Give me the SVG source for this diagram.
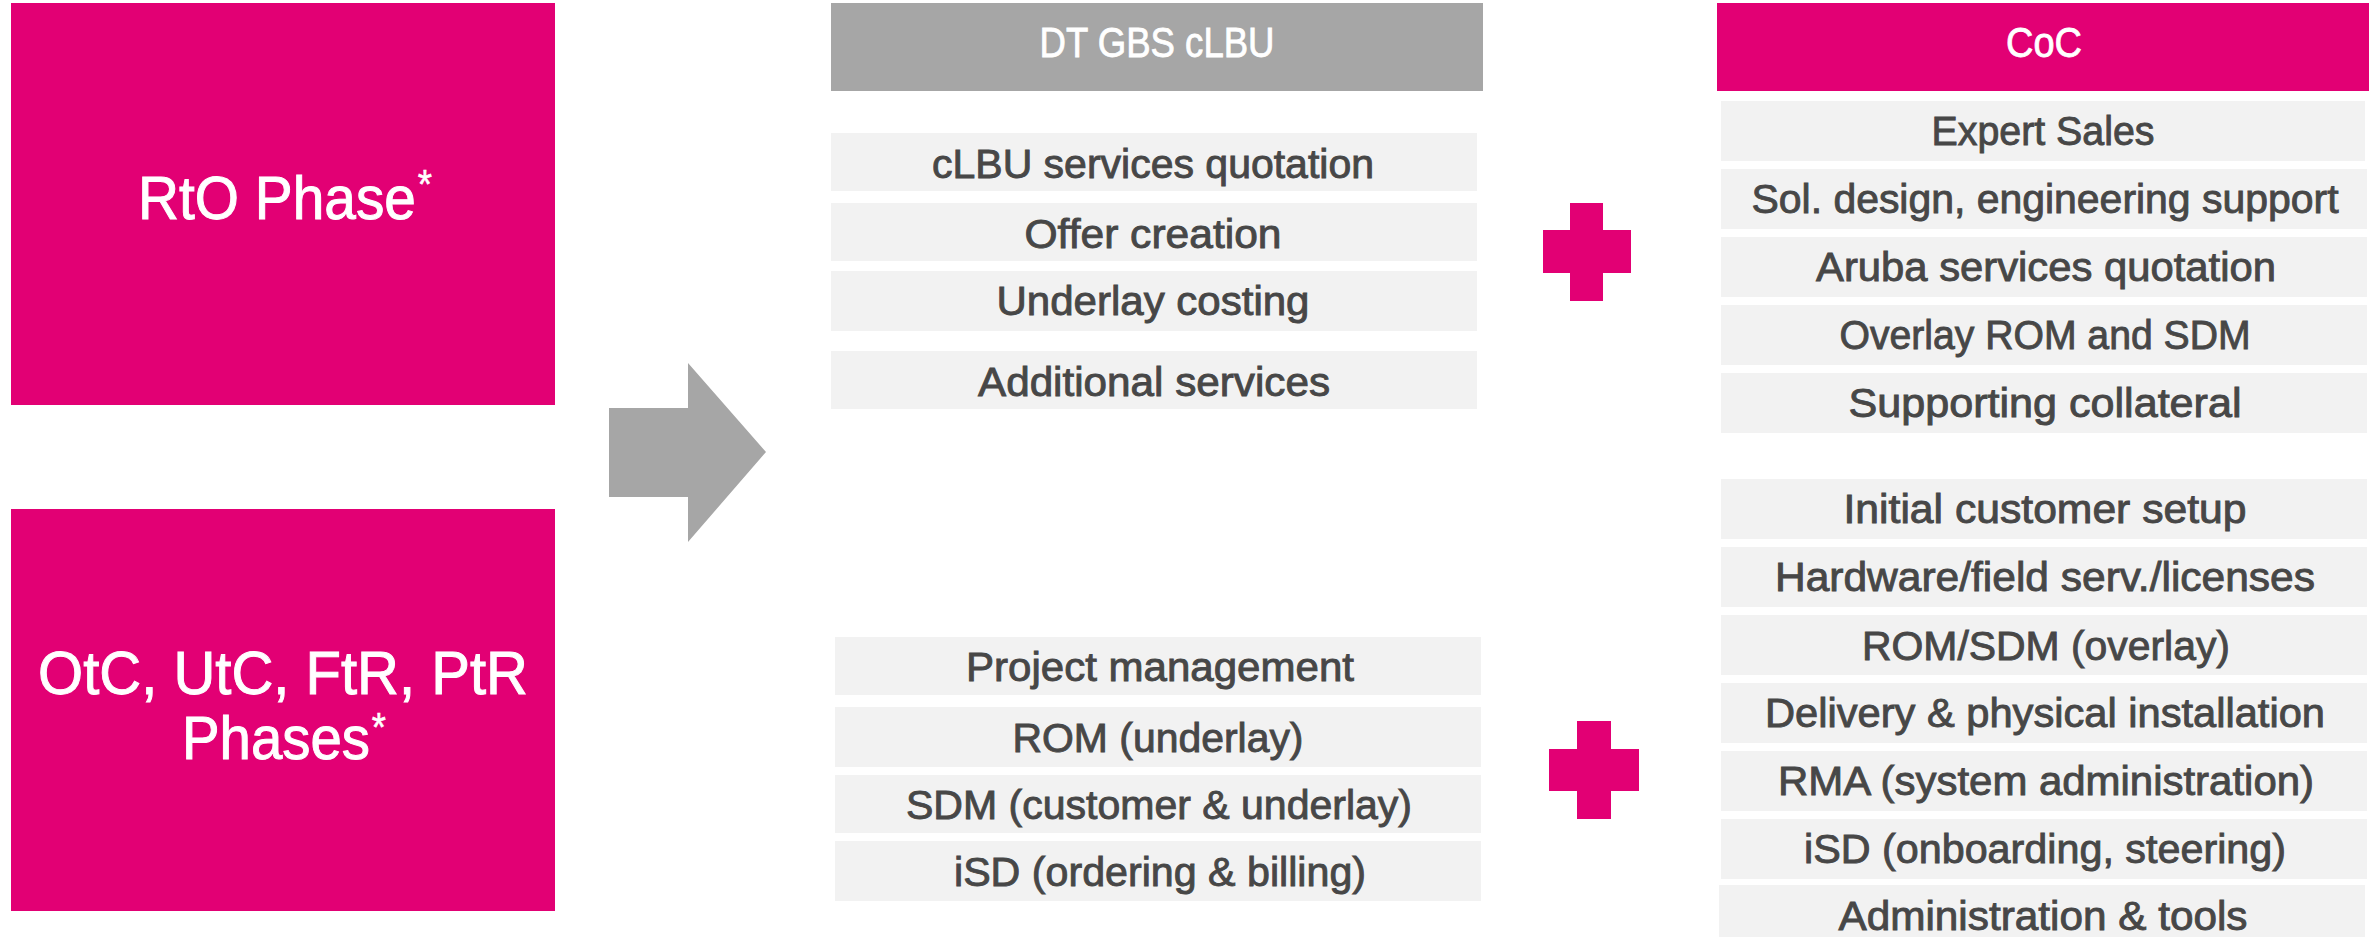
<svg xmlns="http://www.w3.org/2000/svg" width="2379" height="937" viewBox="0 0 2379 937">
<style>
.phase{fill:#E20074}
.ptxt{font-family:"Liberation Sans",Arial,sans-serif;font-size:62px;fill:#ffffff;stroke:#ffffff;stroke-width:1}
.ast{font-size:40px;stroke-width:0.6}
.hdr{font-family:"Liberation Sans",Arial,sans-serif;font-size:42px;fill:#ffffff;stroke:#ffffff;stroke-width:0.8;text-anchor:middle}
.item{fill:#F2F2F2}
.itxt{font-family:"Liberation Sans",Arial,sans-serif;font-size:40px;fill:#474747;text-anchor:middle;stroke:#474747;stroke-width:0.9}
.plus{fill:#E20074}
.arrow{fill:#A6A6A6}
</style>
<rect width="2379" height="937" fill="#ffffff"/>

<g id="rto-phase">
<rect class="phase" x="11" y="3" width="544" height="402"/>
<text class="ptxt" x="138" y="219" textLength="294" lengthAdjust="spacingAndGlyphs">RtO Phase<tspan class="ast" dx="2" dy="-21">*</tspan></text>
</g>

<g id="otc-phases">
<rect class="phase" x="11" y="509" width="544" height="402"/>
<text class="ptxt" x="38" y="694" textLength="490" lengthAdjust="spacingAndGlyphs">OtC, UtC, FtR, PtR</text>
<text class="ptxt" x="182" y="759" textLength="204" lengthAdjust="spacingAndGlyphs">Phases<tspan class="ast" dx="2" dy="-18">*</tspan></text>
</g>

<g id="connectors">
<polygon class="arrow" points="609,408 688,408 688,363 766,452 688,542 688,497 609,497"/>
</g>

<g id="dt-gbs-clbu">
<rect x="831" y="3" width="652" height="88" fill="#A6A6A6"/>
<text class="hdr" x="1157" y="57" textLength="235" lengthAdjust="spacingAndGlyphs">DT GBS cLBU</text>
</g>

<g id="clbu-rto-items">
<rect class="item" x="831" y="133" width="646" height="58"/>
<text class="itxt" x="1153" y="178" textLength="442" lengthAdjust="spacingAndGlyphs">cLBU services quotation</text>
<rect class="item" x="831" y="203" width="646" height="58"/>
<text class="itxt" x="1153" y="248" textLength="257" lengthAdjust="spacingAndGlyphs">Offer creation</text>
<rect class="item" x="831" y="271" width="646" height="60"/>
<text class="itxt" x="1153" y="315" textLength="313" lengthAdjust="spacingAndGlyphs">Underlay costing</text>
<rect class="item" x="831" y="351" width="646" height="58"/>
<text class="itxt" x="1154" y="396" textLength="352" lengthAdjust="spacingAndGlyphs">Additional services</text>
</g>

<g id="clbu-otc-items">
<rect class="item" x="835" y="637" width="646" height="58"/>
<text class="itxt" x="1160" y="681" textLength="388" lengthAdjust="spacingAndGlyphs">Project management</text>
<rect class="item" x="835" y="707" width="646" height="60"/>
<text class="itxt" x="1158" y="752" textLength="291" lengthAdjust="spacingAndGlyphs">ROM (underlay)</text>
<rect class="item" x="835" y="775" width="646" height="58"/>
<text class="itxt" x="1159" y="819" textLength="506" lengthAdjust="spacingAndGlyphs">SDM (customer &amp; underlay)</text>
<rect class="item" x="835" y="841" width="646" height="60"/>
<text class="itxt" x="1160" y="886" textLength="412" lengthAdjust="spacingAndGlyphs">iSD (ordering &amp; billing)</text>
</g>

<g id="plus-top">
<rect class="plus" x="1543" y="230" width="88" height="43"/>
<rect class="plus" x="1570" y="203" width="33" height="98"/>
</g>

<g id="plus-bottom">
<rect class="plus" x="1549" y="749" width="90" height="42"/>
<rect class="plus" x="1577" y="721" width="34" height="98"/>
</g>

<g id="coc">
<rect x="1717" y="3" width="652" height="88" fill="#E20074"/>
<text class="hdr" x="2044" y="57" textLength="76" lengthAdjust="spacingAndGlyphs">CoC</text>
</g>

<g id="coc-rto-items">
<rect class="item" x="1721" y="101" width="644" height="60"/>
<text class="itxt" x="2043" y="145" textLength="223" lengthAdjust="spacingAndGlyphs">Expert Sales</text>
<rect class="item" x="1721" y="169" width="646" height="60"/>
<text class="itxt" x="2045" y="213" textLength="587" lengthAdjust="spacingAndGlyphs">Sol. design, engineering support</text>
<rect class="item" x="1721" y="237" width="646" height="60"/>
<text class="itxt" x="2046" y="281" textLength="460" lengthAdjust="spacingAndGlyphs">Aruba services quotation</text>
<rect class="item" x="1721" y="305" width="646" height="60"/>
<text class="itxt" x="2045" y="349" textLength="411" lengthAdjust="spacingAndGlyphs">Overlay ROM and SDM</text>
<rect class="item" x="1721" y="373" width="646" height="60"/>
<text class="itxt" x="2045" y="417" textLength="393" lengthAdjust="spacingAndGlyphs">Supporting collateral</text>
</g>

<g id="coc-otc-items">
<rect class="item" x="1721" y="479" width="646" height="60"/>
<text class="itxt" x="2045" y="523" textLength="403" lengthAdjust="spacingAndGlyphs">Initial customer setup</text>
<rect class="item" x="1721" y="547" width="646" height="60"/>
<text class="itxt" x="2045" y="591" textLength="540" lengthAdjust="spacingAndGlyphs">Hardware/field serv./licenses</text>
<rect class="item" x="1721" y="615" width="646" height="60"/>
<text class="itxt" x="2046" y="660" textLength="368" lengthAdjust="spacingAndGlyphs">ROM/SDM (overlay)</text>
<rect class="item" x="1721" y="683" width="646" height="60"/>
<text class="itxt" x="2045" y="727" textLength="560" lengthAdjust="spacingAndGlyphs">Delivery &amp; physical installation</text>
<rect class="item" x="1721" y="751" width="646" height="60"/>
<text class="itxt" x="2046" y="795" textLength="536" lengthAdjust="spacingAndGlyphs">RMA (system administration)</text>
<rect class="item" x="1721" y="819" width="646" height="60"/>
<text class="itxt" x="2045" y="863" textLength="482" lengthAdjust="spacingAndGlyphs">iSD (onboarding, steering)</text>
<rect class="item" x="1719" y="885" width="646" height="52"/>
<text class="itxt" x="2043" y="930" textLength="409" lengthAdjust="spacingAndGlyphs">Administration &amp; tools</text>
</g>
</svg>
